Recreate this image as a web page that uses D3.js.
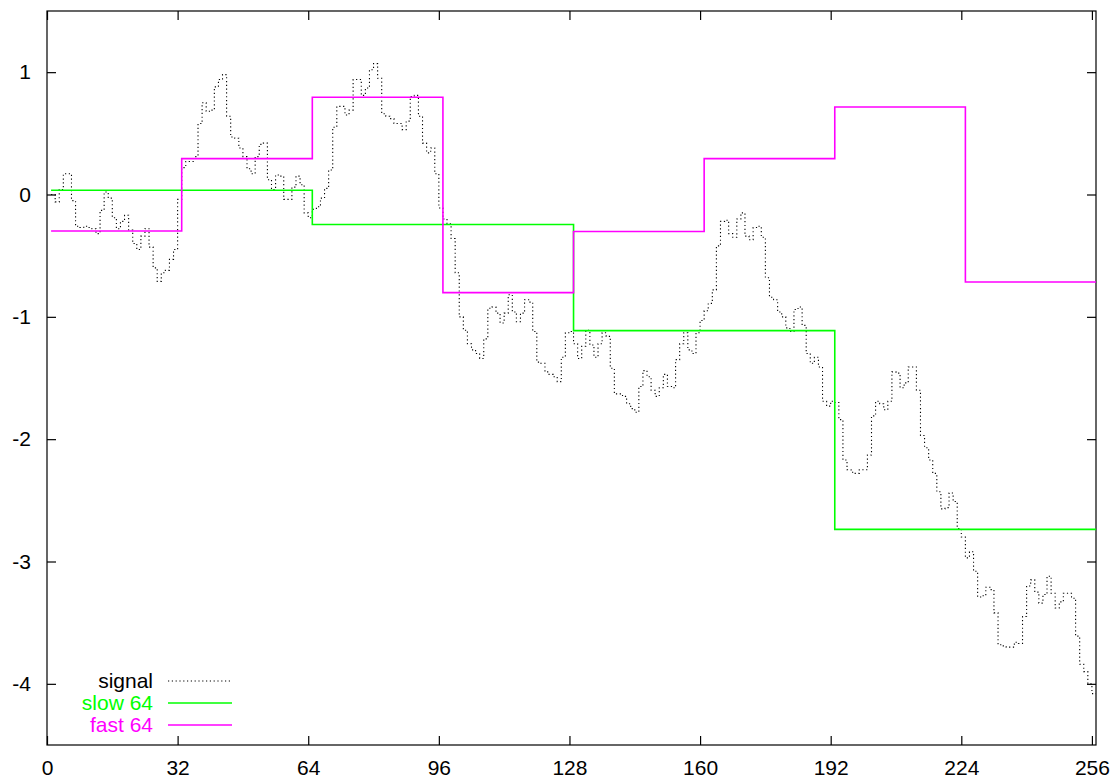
<!DOCTYPE html>
<html>
<head>
<meta charset="utf-8">
<script src="https://cdn.jsdelivr.net/npm/d3@7"></script>
<style>
    body{margin:0;background:#fff;}
    svg{display:block;font-family:'Liberation Sans',Arial,Helvetica,sans-serif;}
    .tick text{font-size:21px;fill:#000;}
    .legend text{font-size:21px;}
</style>
</head>
<body>
<div id="graphWrapper"></div>
<script>
//data
const xTicks = [0,32,64,96,128,160,192,224,256];
const yTicks = [-4,-3,-2,-1,0,1];

//signal sample values, sample n starts at x = n (n = 1..256)
const signal = [
     0.00,-0.06, 0.04, 0.17, 0.17,-0.05,-0.26,-0.27,-0.26,-0.27,
    -0.28,-0.32,-0.13, 0.02,-0.03,-0.19,-0.28,-0.22,-0.17,-0.29,
    -0.40,-0.45,-0.34,-0.28,-0.43,-0.60,-0.71,-0.64,-0.62,-0.53,
    -0.45,-0.04, 0.22, 0.27, 0.27, 0.31, 0.58, 0.75, 0.68, 0.69,
     0.88, 0.94, 0.98, 0.64, 0.47, 0.46, 0.38, 0.31, 0.21, 0.17,
     0.31, 0.41, 0.42, 0.12, 0.04, 0.16, 0.15,-0.04,-0.04, 0.06,
     0.15, 0.08,-0.15,-0.19,-0.12,-0.10,-0.03, 0.05, 0.20, 0.55,
     0.72, 0.72, 0.65, 0.69, 0.94, 0.94, 0.81, 0.87, 1.02, 1.07,
     0.95, 0.66, 0.64, 0.62, 0.58, 0.58, 0.53, 0.60, 0.80, 0.81,
     0.64, 0.42, 0.34, 0.38, 0.17,-0.11,-0.20,-0.24,-0.36,-0.64,
    -1.00,-1.11,-1.22,-1.27,-1.30,-1.34,-1.18,-0.93,-0.92,-0.97,
    -1.05,-0.97,-0.82,-0.96,-1.04,-0.97,-0.86,-0.88,-1.12,-1.37,
    -1.38,-1.45,-1.47,-1.49,-1.53,-1.33,-1.13,-1.12,-1.22,-1.34,
    -1.24,-1.11,-1.23,-1.33,-1.22,-1.13,-1.16,-1.42,-1.63,-1.63,
    -1.65,-1.71,-1.75,-1.78,-1.57,-1.44,-1.49,-1.60,-1.65,-1.58,
    -1.47,-1.57,-1.58,-1.35,-1.22,-1.13,-1.27,-1.30,-1.13,-1.03,
    -0.95,-0.89,-0.78,-0.42,-0.22,-0.21,-0.32,-0.35,-0.20,-0.15,
    -0.34,-0.37,-0.27,-0.26,-0.35,-0.68,-0.84,-0.86,-0.96,-1.00,
    -1.09,-1.12,-0.94,-0.92,-1.07,-1.30,-1.38,-1.33,-1.41,-1.69,
    -1.73,-1.69,-1.70,-1.84,-2.17,-2.25,-2.27,-2.28,-2.25,-2.25,
    -2.13,-1.81,-1.69,-1.71,-1.76,-1.69,-1.45,-1.46,-1.58,-1.54,
    -1.41,-1.41,-1.60,-1.97,-2.07,-2.17,-2.28,-2.43,-2.57,-2.56,
    -2.44,-2.51,-2.73,-2.80,-2.97,-2.92,-3.08,-3.29,-3.28,-3.21,
    -3.23,-3.42,-3.68,-3.69,-3.70,-3.70,-3.66,-3.67,-3.45,-3.20,
    -3.15,-3.25,-3.34,-3.27,-3.12,-3.26,-3.38,-3.33,-3.26,-3.26,
    -3.30,-3.61,-3.84,-3.90,-4.00,-4.08
];

//slow 64: block start positions and levels
const slowX = [1,65,129,193];
const slowY = [0.035,-0.245,-1.113,-2.737];

//fast 64: block start positions and levels
const fastX = [1,33,65,97,129,161,193,225];
const fastY = [-0.298,0.293,0.795,-0.802,-0.303,0.293,0.715,-0.715];

const legendLabels = ['signal','slow 64','fast 64'];

//constants
const CONSTANTS = {
    WIDTH:1115,
    HEIGHT:783,
    LEFT:47,        //left edge of the frame
    RIGHT:1096,     //right edge of the frame
    TOP:11,         //top edge of the frame
    BOTTOM:745,     //bottom edge of the frame
    X_DOMAIN:[0,257],
    Y_DOMAIN:[-4.5,1.5],
    TICK:9,         //inward tick length
    SIGNAL:'#000000',
    SLOW:'#00ff00',
    FAST:'#ff00ff'
};

function main(){
    let svg = d3.select('#graphWrapper')
        .append('svg')
        .attr('width',CONSTANTS.WIDTH)
        .attr('height',CONSTANTS.HEIGHT);

    let scales = buildScales();
    buildAxis(svg,scales);
    buildLines(svg,scales);
    buildLegend(svg);
}

function buildScales(){
    let x = d3.scaleLinear().domain(CONSTANTS.X_DOMAIN).range([CONSTANTS.LEFT,CONSTANTS.RIGHT]);
    let y = d3.scaleLinear().domain(CONSTANTS.Y_DOMAIN).range([CONSTANTS.BOTTOM,CONSTANTS.TOP]);
    return {x:x,y:y};
}

//ticks on all four sides, labels only bottom and left
function buildAxis(svg,scales){
    let t = CONSTANTS.TICK;

    let bottom = svg.append('g')
        .attr('transform','translate(0,' + CONSTANTS.BOTTOM + ')')
        .call(d3.axisBottom(scales.x).tickValues(xTicks).tickSize(-t).tickSizeOuter(0).tickPadding(15));
    let left = svg.append('g')
        .attr('transform','translate(' + CONSTANTS.LEFT + ',0)')
        .call(d3.axisLeft(scales.y).tickValues(yTicks).tickSize(-t).tickSizeOuter(0).tickPadding(16)
            .tickFormat(d => d < 0 ? '-' + Math.abs(d) : d));
    let top = svg.append('g')
        .attr('transform','translate(0,' + CONSTANTS.TOP + ')')
        .call(d3.axisTop(scales.x).tickValues(xTicks).tickSize(-t).tickSizeOuter(0).tickFormat(''));
    let right = svg.append('g')
        .attr('transform','translate(' + CONSTANTS.RIGHT + ',0)')
        .call(d3.axisRight(scales.y).tickValues(yTicks).tickSize(-t).tickSizeOuter(0).tickFormat(''));

    [bottom,left,top,right].forEach(g => {
        g.select('.domain').remove();
        g.selectAll('line').attr('stroke','#000').attr('stroke-width',1.2);
        g.selectAll('text').attr('font-family',null).attr('font-size',null);
    });

    //frame
    svg.append('rect')
        .attr('x',CONSTANTS.LEFT)
        .attr('y',CONSTANTS.TOP)
        .attr('width',CONSTANTS.RIGHT - CONSTANTS.LEFT)
        .attr('height',CONSTANTS.BOTTOM - CONSTANTS.TOP)
        .attr('fill','none')
        .attr('stroke','#000')
        .attr('stroke-width',1.2);
}

function buildLines(svg,scales){
    let xEnd = CONSTANTS.X_DOMAIN[1];
    let line = d3.line()
        .x(d => scales.x(d[0]))
        .y(d => scales.y(d[1]))
        .curve(d3.curveStepAfter);

    //close every step series at the right edge
    let sig = signal.map((v,i) => [i + 1,v]);
    sig.push([xEnd,signal[signal.length - 1]]);
    let slow = slowX.map((x,i) => [x,slowY[i]]);
    slow.push([xEnd,slowY[slowY.length - 1]]);
    let fast = fastX.map((x,i) => [x,fastY[i]]);
    fast.push([xEnd,fastY[fastY.length - 1]]);

    svg.append('path')
        .datum(sig)
        .attr('d',line)
        .attr('fill','none')
        .attr('stroke',CONSTANTS.SIGNAL)
        .attr('stroke-width',1.1)
        .attr('stroke-dasharray','1.2,2.6');

    svg.append('path')
        .datum(slow)
        .attr('d',line)
        .attr('fill','none')
        .attr('stroke',CONSTANTS.SLOW)
        .attr('stroke-width',1.6);

    svg.append('path')
        .datum(fast)
        .attr('d',line)
        .attr('fill','none')
        .attr('stroke',CONSTANTS.FAST)
        .attr('stroke-width',1.6);
}

function buildLegend(svg){
    let colors = [CONSTANTS.SIGNAL,CONSTANTS.SLOW,CONSTANTS.FAST];
    let textRight = 153;
    let lineX1 = 168;
    let lineX2 = 232;
    let y0 = 681;
    let rowStep = 22;

    let g = svg.append('g').attr('class','legend');

    legendLabels.forEach((label,i) => {
        let y = y0 + i * rowStep;
        g.append('text')
            .text(label)
            .attr('x',textRight)
            .attr('y',y)
            .attr('dy','0.35em')
            .attr('text-anchor','end')
            .attr('fill',colors[i]);
        let l = g.append('line')
            .attr('x1',lineX1)
            .attr('x2',lineX2)
            .attr('y1',y)
            .attr('y2',y)
            .attr('stroke',colors[i]);
        if(i == 0){
            l.attr('stroke-width',1.1).attr('stroke-dasharray','1.2,2.6');
        }
        else{
            l.attr('stroke-width',1.6);
        }
    });
}

main();
</script>
</body>
</html>
